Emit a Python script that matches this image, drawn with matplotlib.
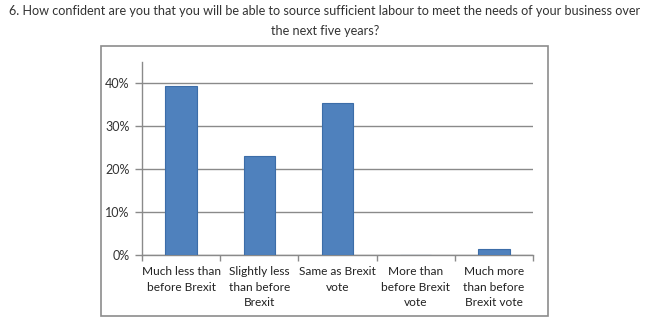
import matplotlib
matplotlib.use('Agg')
import matplotlib.pyplot as plt
from matplotlib.patches import Rectangle
from matplotlib.ticker import PercentFormatter
import numpy as np

categories = ['Much less than\nbefore Brexit',
              'Slightly less\nthan before\nBrexit',
              'Same as Brexit\nvote',
              'More than\nbefore Brexit\nvote',
              'Much more\nthan before\nBrexit vote']
shares = [39.4, 23.0, 35.4, 0.0, 1.4]
yticks = [0, 10, 20, 30, 40]

title = ('6. How confident are you that you will be able to source sufficient labour '
         'to meet the needs of your business over\nthe next five years?')

plt.rcParams['font.family'] = ['Lato', 'DejaVu Sans']

W, H = 650, 331
fig = plt.figure(figsize=(W / 100, H / 100), dpi=100)

def px(x0, y0, x1, y1):
    # pixel box (top-left origin) -> figure fraction
    return [x0 / W, 1 - y1 / H, (x1 - x0) / W, (y1 - y0) / H]

fig.text(0.5, 1 - 21 / H, title, ha='center', va='center', fontsize=9.1,
         color='#333333', linespacing=1.85)

# chart frame
fr = px(101, 46, 548, 316)
fig.patches.append(Rectangle((fr[0], fr[1]), fr[2], fr[3], transform=fig.transFigure,
                             fill=False, edgecolor='#8c8c8c', linewidth=1.2))

ax = fig.add_axes(px(142, 62, 533, 255))
x = np.arange(len(categories))
ax.bar(x, shares, width=0.4, color='#4f81bd', edgecolor='#3c6da8', linewidth=0.8, zorder=3)

ax.set_xlim(-0.5, len(categories) - 0.5)
ax.set_ylim(0, 45)
ax.set_yticks(yticks)
ax.yaxis.set_major_formatter(PercentFormatter(decimals=0))
ax.grid(axis='y', color='#8a8a8a', linewidth=1.0, zorder=0)

ax.set_xticks(x)
ax.set_xticklabels(categories, fontsize=8.6, color='#222222', linespacing=1.5)
ax.set_xticks(np.arange(-0.5, len(categories)), minor=True)
ax.tick_params(axis='x', which='major', length=0, pad=8)
ax.tick_params(axis='x', which='minor', length=4, color='#8a8a8a', width=1)
ax.tick_params(axis='y', length=5, color='#8a8a8a', width=1, labelsize=9,
               labelcolor='#333333', pad=4)

for s in ['top', 'right']:
    ax.spines[s].set_visible(False)
for s in ['left', 'bottom']:
    ax.spines[s].set_color('#8a8a8a')
    ax.spines[s].set_linewidth(1.0)

fig.savefig('out.png', dpi=100)
